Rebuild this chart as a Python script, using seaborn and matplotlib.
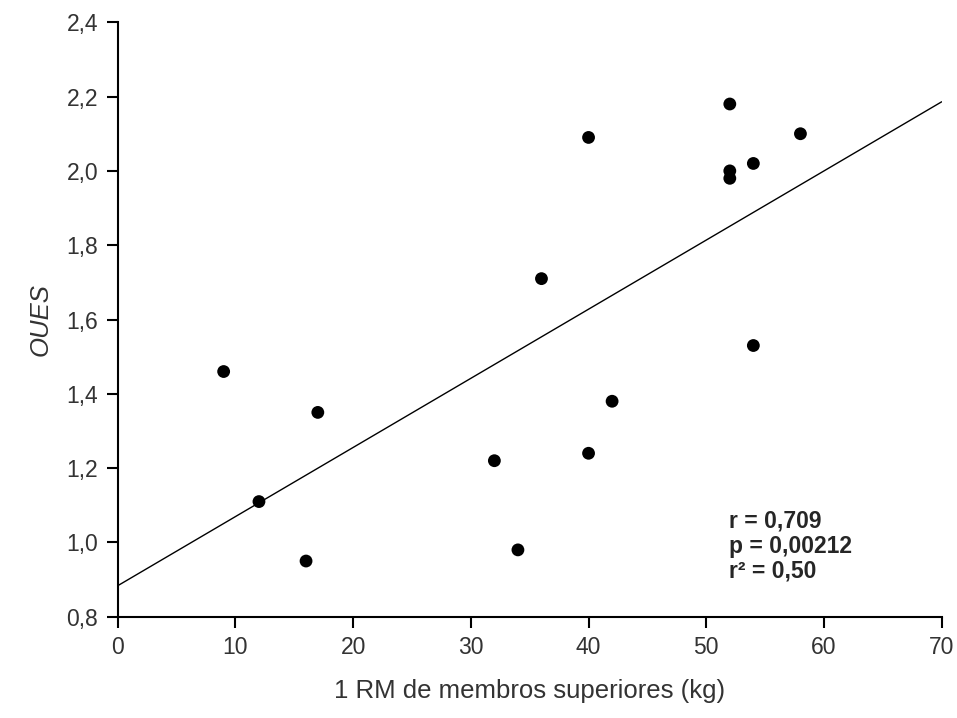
import pandas as pd
import seaborn as sns
import matplotlib.pyplot as plt

# values
rm_kg = [9, 12, 16, 17, 32, 34, 36, 40, 40, 42, 52, 52, 52, 54, 54, 58]
oues = [1.46, 1.11, 0.95, 1.35, 1.22, 0.98, 1.71, 2.09, 1.24, 1.38,
        2.18, 2.00, 1.98, 2.02, 1.53, 2.10]
x_ticks = [0, 10, 20, 30, 40, 50, 60, 70]
y_ticks = [0.8, 1.0, 1.2, 1.4, 1.6, 1.8, 2.0, 2.2, 2.4]
stats_text = ['r = 0,709', 'p = 0,00212', 'r² = 0,50']

df = pd.DataFrame({'rm': rm_kg, 'oues': oues})

sns.set_style('ticks')
plt.rcParams['font.family'] = ['Liberation Sans', 'DejaVu Sans']

fig = plt.figure(figsize=(9.57, 7.18), dpi=100)
ax = fig.add_axes([0.123, 0.141, 0.861, 0.828])
ax.set_xlim(0, 70)
ax.set_ylim(0.8, 2.4)

sns.regplot(data=df, x='rm', y='oues', ax=ax, ci=None, truncate=False,
            scatter_kws={'s': 85, 'color': 'black', 'edgecolor': 'none', 'alpha': 1},
            line_kws={'color': 'black', 'lw': 1.0})

ax.set_xlim(0, 70)
ax.set_ylim(0.8, 2.4)
ax.set_xticks(x_ticks)
ax.set_yticks(y_ticks)
ax.set_xticklabels([str(t) for t in x_ticks])
ax.set_yticklabels([f'{t:.1f}'.replace('.', ',') for t in y_ticks])
ax.tick_params(direction='out', length=8, width=1.5, color='black',
               labelsize=16.5, labelcolor='#333333', pad=6)
for side in ['left', 'bottom']:
    ax.spines[side].set_linewidth(1.5)
    ax.spines[side].set_color('black')
sns.despine(ax=ax)

ax.set_xlabel('1 RM de membros superiores (kg)', fontsize=18.5, color='#333333', labelpad=14)
ax.set_ylabel('OUES', fontsize=18.5, style='italic', color='#333333', labelpad=10)

ax.text(51.9, 0.99, '\n'.join(stats_text), fontsize=16.5, fontweight='bold',
        va='center', ha='left', linespacing=1.12)

fig.savefig('out.png', dpi=100)
